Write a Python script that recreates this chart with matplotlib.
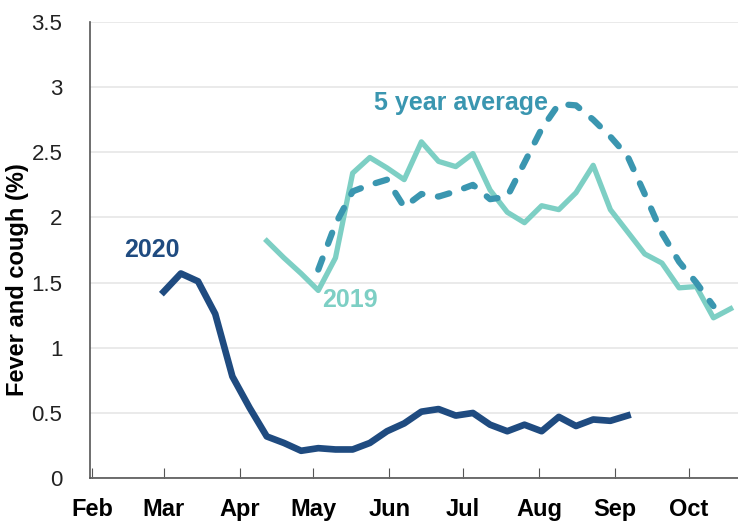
import numpy as np
import pandas as pd
import matplotlib
matplotlib.use("Agg")
import matplotlib.pyplot as plt
import matplotlib.dates as mdates

plt.rcParams['font.family'] = ['Liberation Sans Narrow', 'Liberation Sans', 'DejaVu Sans']

# weekly points, starting 1 March
weeks = pd.date_range("2020-03-01", periods=34, freq="7D")

y2020 = [1.43, 1.57, 1.51, 1.26, 0.78, 0.54, 0.32, 0.27, 0.21, 0.23, 0.22, 0.22, 0.27, 0.36,
         0.42, 0.51, 0.53, 0.48, 0.50, 0.41, 0.36, 0.41, 0.36, 0.47, 0.40, 0.45, 0.44, 0.48]
y2019 = [1.82, 1.69, 1.57, 1.44, 1.69, 2.34, 2.46, 2.38, 2.29, 2.58, 2.43, 2.39, 2.49, 2.21,
         2.04, 1.96, 2.09, 2.06, 2.19, 2.40, 2.06, 1.89, 1.72, 1.65, 1.46, 1.47, 1.23, 1.30]
y5avg = [1.60, 1.95, 2.20, 2.25, 2.29, 2.08, 2.18, 2.16, 2.20, 2.25, 2.14, 2.16, 2.42, 2.68,
         2.87, 2.86, 2.75, 2.62, 2.47, 2.18, 1.88, 1.66, 1.50, 1.32]

c2020 = "#1f4b80"
c2019 = "#7dcfc4"
c5avg = "#3a96b0"

fig = plt.figure(figsize=(7.38, 5.22), dpi=100)
ax = fig.add_axes([0.122, 0.084, 0.878, 0.874])

ax.plot(weeks[6:6 + len(y2019)], y2019, color=c2019, lw=3.8, zorder=3)
ax.plot(weeks[9:9 + len(y5avg)], y5avg, color=c5avg, lw=4.5, dashes=(1.9, 2.5),
        dash_capstyle="round", zorder=4)
ax.plot(weeks[:len(y2020)], y2020, color=c2020, lw=4.8, zorder=5)

ax.text(pd.Timestamp("2020-02-25"), 1.75, "2020", color=c2020, fontsize=18,
        fontweight="bold", va="center", ha="center")
ax.text(pd.Timestamp("2020-05-16"), 1.37, "2019", color=c2019, fontsize=18,
        fontweight="bold", va="center", ha="center")
ax.text(pd.Timestamp("2020-06-30"), 2.88, "5 year average", color=c5avg, fontsize=18,
        fontweight="bold", va="center", ha="center")

ax.set_ylim(0, 3.5)
ax.set_yticks(np.arange(0, 3.51, 0.5))
ax.set_yticklabels(["0", "0.5", "1", "1.5", "2", "2.5", "3", "3.5"])
ax.set_xlim(pd.Timestamp("2020-01-31"), pd.Timestamp("2020-10-21"))
ax.xaxis.set_major_locator(mdates.MonthLocator(bymonth=range(2, 11)))
ax.xaxis.set_major_formatter(mdates.DateFormatter("%b"))

ax.grid(axis="y", color="#e6e6e6", lw=1.2)
ax.set_axisbelow(True)
for s in ["top", "right"]:
    ax.spines[s].set_visible(False)
for s in ["left", "bottom"]:
    ax.spines[s].set_color("#555555")
    ax.spines[s].set_linewidth(1.2)

ax.tick_params(axis="y", length=0, labelsize=16, pad=20, labelcolor="#222222")
ax.tick_params(axis="x", direction="in", length=7, color="#555555", labelsize=17, pad=14)
for lab in ax.get_xticklabels():
    lab.set_fontweight("bold")

ax.set_ylabel("Fever and cough (%)", fontsize=17, fontweight="bold")
ax.yaxis.set_label_coords(-0.094, 0.435)

fig.savefig("out.png", dpi=100)
